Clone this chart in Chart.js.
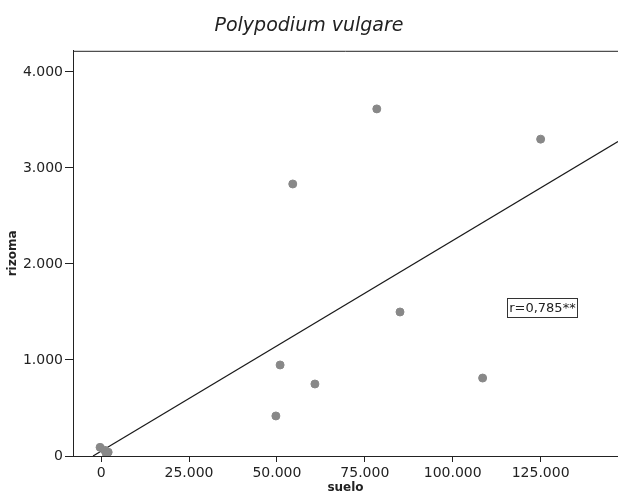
<!DOCTYPE html>
<html>
<head>
<meta charset="utf-8">
<script src="https://cdn.jsdelivr.net/npm/chart.js@4/dist/chart.umd.min.js"></script>
<style>
  html, body { margin: 0; padding: 0; background: #fff; }
  #wrap { width: 618px; height: 495px; }
</style>
</head>
<body>
<div id="wrap"><canvas id="grafico"></canvas></div>
<script>
// datos
const suelo  = [78400, 125000, 54500, 85000, 108500, 50900, 60800, 49700, -300, 1000, 2000, 1500];
const rizoma = [3615, 3300, 2833, 1500, 812, 948, 750, 417, 90, 60, 40, 20];

// recta de regresion (extremos)
const rectaX = [-2300, 147000];
const rectaY = [0, 3275];

const ticksX = [0, 25000, 50000, 75000, 100000, 125000];
const ticksY = [0, 1000, 2000, 3000, 4000];

const etiquetaR = "r=0,785**";
const posR = [125500, 1547];

const fuente = "'DejaVu Sans', sans-serif";

function formato(v) {
  return String(v).replace(/\B(?=(\d{3})+(?!\d))/g, ".");
}

const bordeYTexto = {
  id: "bordeYTexto",
  afterDatasetsDraw(chart) {
    const { ctx, chartArea, scales } = chart;
    ctx.save();
    // linea superior del marco
    ctx.strokeStyle = "#222";
    ctx.lineWidth = 1;
    ctx.beginPath();
    ctx.moveTo(chartArea.left, chartArea.top + 0.5);
    ctx.lineTo(chartArea.right, chartArea.top + 0.5);
    ctx.stroke();

    // recuadro con r
    const cx = scales.x.getPixelForValue(posR[0]);
    const cy = scales.y.getPixelForValue(posR[1]);
    ctx.font = "13px " + fuente;
    ctx.textAlign = "center";
    ctx.textBaseline = "middle";
    const w = ctx.measureText(etiquetaR).width + 4;
    const h = 19;
    ctx.fillStyle = "#fff";
    ctx.fillRect(cx - w / 2, cy - h / 2, w, h);
    ctx.strokeStyle = "#333";
    ctx.strokeRect(Math.round(cx - w / 2) + 0.5, Math.round(cy - h / 2) + 0.5, Math.round(w), h);
    ctx.fillStyle = "#222";
    ctx.fillText(etiquetaR, cx, cy + 1);
    ctx.restore();
  }
};

new Chart(document.getElementById("grafico"), {
  type: "scatter",
  data: {
    datasets: [
      {
        type: "line",
        data: rectaX.map((x, i) => ({ x: x, y: rectaY[i] })),
        borderColor: "#1a1a1a",
        borderWidth: 1.2,
        pointRadius: 0,
        fill: false,
        order: 2
      },
      {
        data: suelo.map((x, i) => ({ x: x, y: rizoma[i] })),
        backgroundColor: "#888888",
        borderColor: "#888888",
        pointRadius: 4,
        pointHoverRadius: 4,
        order: 1
      }
    ]
  },
  options: {
    responsive: true,
    maintainAspectRatio: false,
    animation: false,
    layout: { autoPadding: false, padding: { left: 0, right: 0, top: 0, bottom: 0 } },
    plugins: {
      legend: { display: false },
      tooltip: { enabled: false },
      title: {
        display: true,
        text: "Polypodium vulgare",
        color: "#222",
        font: { family: fuente, size: 19, style: "italic", weight: "normal" },
        padding: { top: 15, bottom: 13 }
      }
    },
    scales: {
      x: {
        type: "linear",
        min: -8000,
        max: 147000,
        afterBuildTicks: s => { s.ticks = ticksX.map(v => ({ value: v })); },
        afterFit: s => { s.height = 39; s.paddingRight = 0; s.paddingLeft = 0; },
        grid: { drawOnChartArea: false, drawTicks: true, tickLength: 6, color: "#222" },
        border: { display: true, color: "#222", width: 1 },
        ticks: {
          color: "#222",
          padding: 3,
          maxRotation: 0,
          font: { family: fuente, size: 14 },
          callback: v => formato(v)
        },
        title: {
          display: true,
          text: "suelo",
          color: "#222",
          font: { family: fuente, size: 12, weight: "bold" },
          padding: { top: 0, bottom: 0 }
        }
      },
      y: {
        type: "linear",
        min: 0,
        max: 4220,
        afterBuildTicks: s => { s.ticks = ticksY.map(v => ({ value: v })); },
        afterFit: s => { s.width = 73; s.paddingTop = 0; s.paddingBottom = 0; },
        grid: { drawOnChartArea: false, drawTicks: true, tickLength: 8, color: "#222" },
        border: { display: true, color: "#222", width: 1 },
        ticks: {
          color: "#222",
          padding: 2,
          font: { family: fuente, size: 14 },
          callback: v => formato(v)
        },
        title: {
          display: true,
          text: "rizoma",
          color: "#222",
          font: { family: fuente, size: 12, weight: "bold" },
          padding: { top: 6, bottom: 0 }
        }
      }
    }
  },
  plugins: [bordeYTexto]
});
</script>
</body>
</html>
